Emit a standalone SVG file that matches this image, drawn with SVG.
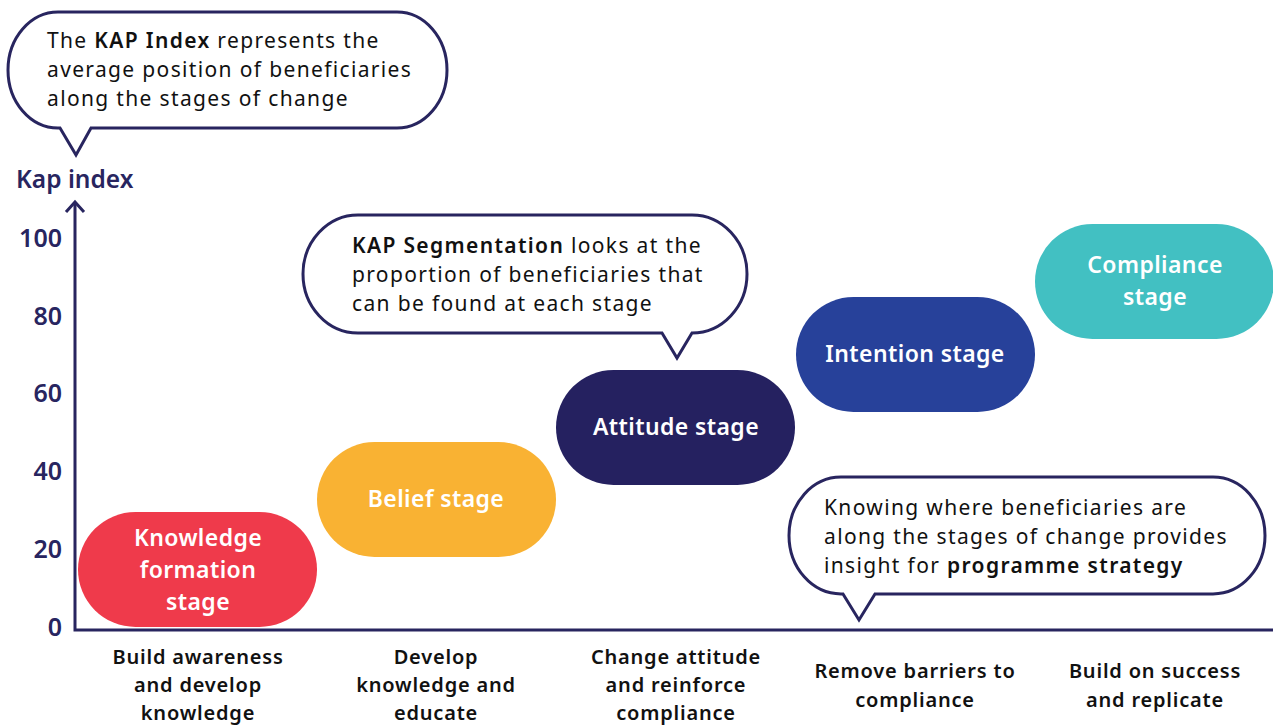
<svg xmlns="http://www.w3.org/2000/svg" width="1273" height="726" viewBox="0 0 1273 726">
<style>
.axis{stroke:#28255f;stroke-width:3;fill:none}
.bubble{fill:#fff;stroke:#28255f;stroke-width:3;stroke-linejoin:miter}
.ct{font-family:"Noto Sans","Open Sans",sans-serif;font-size:21px;letter-spacing:1.35px;fill:#111}
.b{font-weight:600}
.tick{font-family:"Noto Sans",sans-serif;font-size:25px;font-weight:600;fill:#28255f;text-anchor:end}
.pt{font-family:"Noto Sans",sans-serif;font-size:23px;letter-spacing:0.4px;font-weight:600;fill:#fff;text-anchor:middle}
.bl{font-family:"Noto Sans",sans-serif;font-size:20px;letter-spacing:0.8px;font-weight:600;fill:#111;text-anchor:middle}
</style>
<rect width="1273" height="726" fill="#fff"/>
<g id="axes">
<path class="axis" d="M75,203 V630 H1273"/>
<path class="axis" d="M66,212 L75,202 L84,212"/>
<text x="16" y="188" font-family="Noto Sans,sans-serif" font-size="24.5" font-weight="600" fill="#28255f">Kap index</text>
<text class="tick" x="62" y="247">100</text>
<text class="tick" x="62" y="325">80</text>
<text class="tick" x="62" y="402">60</text>
<text class="tick" x="62" y="480">40</text>
<text class="tick" x="62" y="558">20</text>
<text class="tick" x="62" y="636">0</text>
</g>
<g id="knowledge">
<rect x="78" y="512" width="239" height="115" rx="57.5" fill="#ef3a4b"/>
<text class="pt" x="198" y="546">Knowledge</text>
<text class="pt" x="198" y="578">formation</text>
<text class="pt" x="198" y="610">stage</text>
</g>
<g id="belief">
<rect x="317" y="442" width="239" height="115" rx="57.5" fill="#f9b233"/>
<text class="pt" x="436" y="507">Belief stage</text>
</g>
<g id="attitude">
<rect x="556" y="370" width="239" height="115" rx="57.5" fill="#252160"/>
<text class="pt" x="676" y="435">Attitude stage</text>
</g>
<g id="intention">
<rect x="796" y="297" width="239" height="115" rx="57.5" fill="#27419a"/>
<text class="pt" x="915" y="362">Intention stage</text>
</g>
<g id="compliance">
<rect x="1035" y="224" width="239" height="115" rx="57.5" fill="#42c0c2"/>
<text class="pt" x="1155" y="273">Compliance</text>
<text class="pt" x="1155" y="305">stage</text>
</g>
<g id="callout-index">
<path class="bubble" d="M60,128 L76,155 L91,128 H397 A50 58 0 0 0 447 70 A50 58 0 0 0 397 12 H58 A50 58 0 0 0 8 70 A50 58 0 0 0 58 128 Z"/>
<text class="ct" x="47" y="48">The <tspan class="b">KAP Index</tspan> represents the</text>
<text class="ct" x="47" y="77">average position of beneficiaries</text>
<text class="ct" x="47" y="106">along the stages of change</text>
</g>
<g id="callout-segmentation">
<path class="bubble" d="M662,333 L677,358 L692,333 A55 59 0 0 0 747 274 A55 59 0 0 0 692 215 H358 A55 59 0 0 0 303 274 A55 59 0 0 0 358 333 Z"/>
<text class="ct" x="352" y="253"><tspan class="b">KAP Segmentation</tspan> looks at the</text>
<text class="ct" x="352" y="282">proportion of beneficiaries that</text>
<text class="ct" x="352" y="311">can be found at each stage</text>
</g>
<g id="callout-strategy">
<path class="bubble" d="M843,594 L859,620 L875,594 H1213 A52 58.5 0 0 0 1265 535.5 A52 58.5 0 0 0 1213 477 H841 A52 58.5 0 0 0 789 535.5 A52 58.5 0 0 0 841 594 Z"/>
<text class="ct" x="824" y="515">Knowing where beneficiaries are</text>
<text class="ct" x="824" y="544">along the stages of change provides</text>
<text class="ct" x="824" y="573">insight for <tspan class="b">programme strategy</tspan></text>
</g>
<g id="bottom-labels">
<text class="bl" x="198" y="664">Build awareness</text>
<text class="bl" x="198" y="692">and develop</text>
<text class="bl" x="198" y="720">knowledge</text>
<text class="bl" x="436" y="664">Develop</text>
<text class="bl" x="436" y="692">knowledge and</text>
<text class="bl" x="436" y="720">educate</text>
<text class="bl" x="676" y="664">Change attitude</text>
<text class="bl" x="676" y="692">and reinforce</text>
<text class="bl" x="676" y="720">compliance</text>
<text class="bl" x="915" y="678">Remove barriers to</text>
<text class="bl" x="915" y="707">compliance</text>
<text class="bl" x="1155" y="678">Build on success</text>
<text class="bl" x="1155" y="707">and replicate</text>
</g>
</svg>
